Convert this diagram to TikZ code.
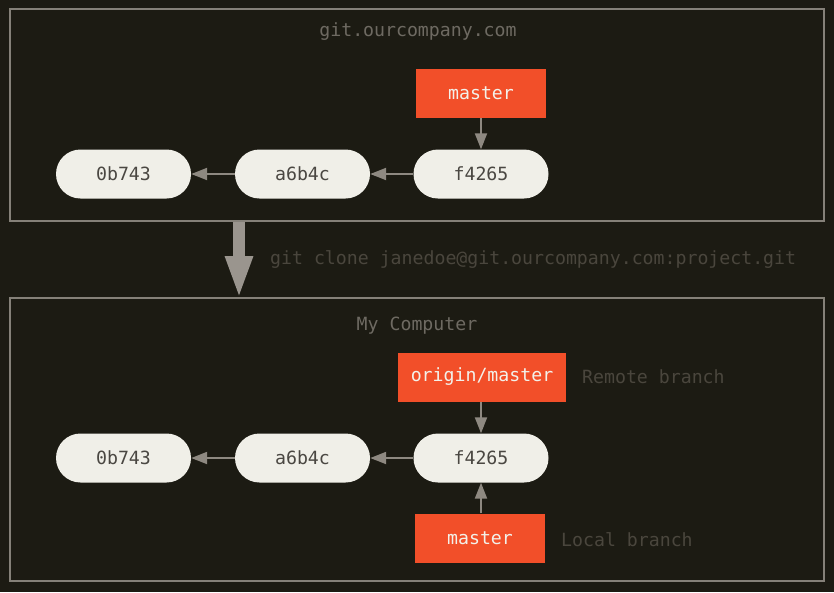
\documentclass[tikz,border=0pt]{standalone}
\usepackage{fontspec}
\newfontfamily\gmono{DejaVu Sans Mono}
\usetikzlibrary{arrows.meta}
\definecolor{bg}{HTML}{1C1B13}
\definecolor{framec}{HTML}{858179}
\definecolor{commitfill}{HTML}{F0EFE8}
\definecolor{committext}{HTML}{4A4742}
\definecolor{branchfill}{HTML}{F24F29}
\definecolor{branchtext}{HTML}{F3F1EA}
\definecolor{titlec}{HTML}{6E6A62}
\definecolor{notec}{HTML}{4A463D}
\definecolor{arrc}{HTML}{8E8981}
\definecolor{bigarr}{HTML}{9A958E}
\tikzset{
  every node/.style={font=\gmono\fontsize{18.2}{21}\selectfont},
  frame/.style={draw=framec, line width=2pt, inner sep=0pt},
  commit/.style={fill=commitfill, text=committext, minimum width=135pt, minimum height=49pt, rounded corners=24.5pt, inner sep=0pt},
  branch/.style={fill=branchfill, text=branchtext, minimum height=49pt, inner sep=0pt},
  title/.style={text=titlec},
  note/.style={text=notec, anchor=west, inner sep=0pt},
  arr/.style={draw=arrc, line width=2pt, -{Triangle[width=12pt,length=16pt]}},
}
\begin{document}
\begin{tikzpicture}[x=1pt,y=-1pt]
\fill[bg] (0,0) rectangle (834,592);
\useasboundingbox (0,0) rectangle (834,592);
% frames
\node[frame, minimum width=814pt, minimum height=212pt] (top) at (417,115) {};
\node[frame, minimum width=814pt, minimum height=283pt] (bot) at (417,439.5) {};
% top
\node[title] (ttop) at (418,32) {git.ourcompany.com};
\node[commit] (c1) at (123.5,174) {0b743};
\node[commit] (c2) at (302.5,174) {a6b4c};
\node[commit] (c3) at (481,174) {f4265};
\node[branch, minimum width=130pt] (m1) at (481,93) {master};
\draw[arr] (c2) -- (c1);
\draw[arr] (c3) -- (c2);
\draw[arr] (m1) -- (c3);
% clone arrow
\coordinate (ax) at (239,0);
\coordinate (ae) at (239,299);
\draw[draw=bigarr, line width=12pt, -{Triangle[width=25pt,length=43pt]}] (top.south -| ax) -- (ae);
\node[note] (clone) at (270,259) {git clone janedoe@git.ourcompany.com:project.git};
% bottom
\node[title] (tbot) at (417,326) {My Computer};
\node[commit] (d1) at (123.5,458) {0b743};
\node[commit] (d2) at (302.5,458) {a6b4c};
\node[commit] (d3) at (481,458) {f4265};
\node[branch, minimum width=168pt] (om) at (482,377) {origin/master};
\node[branch, minimum width=130pt] (m2) at (480,538) {master};
\node[note] (rb) at (582,377) {Remote branch};
\node[note] (lb) at (561,540) {Local branch};
\draw[arr] (d2) -- (d1);
\draw[arr] (d3) -- (d2);
\draw[arr] (om.south -| d3.center) -- (d3.north);
\draw[arr] (m2.north -| d3.center) -- (d3.south);
\end{tikzpicture}
\end{document}
